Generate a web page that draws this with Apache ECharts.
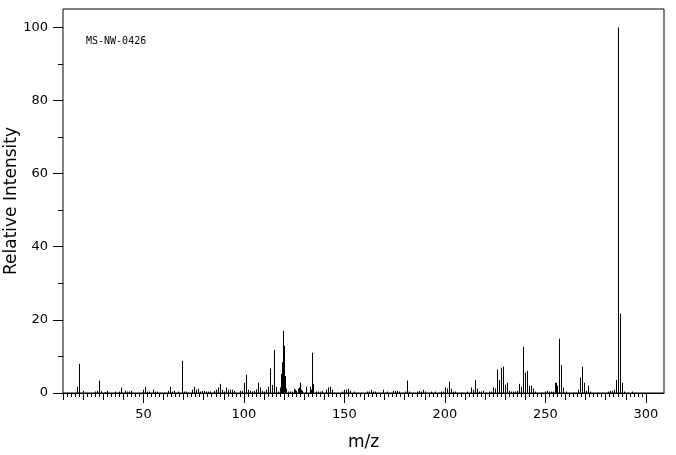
<!DOCTYPE html>
<html><head><meta charset="utf-8">
<script src="https://cdn.jsdelivr.net/npm/echarts@6/dist/echarts.min.js"></script>
<style>html,body{margin:0;padding:0;background:#fff}#c{width:676px;height:455px}</style>
</head><body><div id="c"></div>
<script>
// m/z positions of the peaks
const mz = [
  17, 18, 20, 26, 27, 28, 29, 31, 32, 36, 38, 39, 41, 42, 43, 44,
  50, 51, 52, 53, 55, 56, 57, 62, 63, 64, 65, 67, 69, 70, 71,
  74, 75, 76, 77, 78, 79, 80, 81, 82, 83, 85, 86, 87, 88, 89, 90,
  91, 92, 93, 94, 95, 98, 99, 100, 101, 102, 103, 104, 105, 106, 107,
  108, 109, 110, 111, 112, 113, 114, 115, 116, 117, 118, 118.5, 119,
  119.5, 120, 120.5, 121, 122, 123, 124, 125, 125.5, 126, 127, 127.5,
  128, 128.5, 129, 131, 133, 133.5, 134, 134.5, 136, 137, 138, 139,
  141, 142, 143, 144, 149, 150, 151, 152, 153, 155, 161, 162, 163,
  164, 165, 169, 171, 174, 175, 176, 177, 180, 181, 182, 186, 187,
  188, 189, 190, 193, 195, 198, 199, 200, 201, 202, 203, 204, 205,
  211, 213, 214, 215, 216, 217, 218, 219, 222, 223, 224, 225, 226,
  227, 228, 229, 230, 231, 232, 233, 234, 235, 236, 237, 238, 239,
  240, 241, 242, 243, 244, 245, 250, 251, 252, 253, 254, 255, 255.5,
  256, 257, 258, 259, 260, 266, 267, 268, 269, 270, 271, 272, 281,
  282, 283, 284, 285, 286, 287, 288, 289, 293
];
// relative intensities (%) matching mz
const intensity = [
  1.7, 8.0, 0.6, 0.4, 0.6, 3.4, 0.5, 0.3, 0.6, 0.4, 0.4, 1.5, 0.6, 0.4, 0.4, 0.6,
  0.9, 1.7, 0.4, 0.4, 0.9, 0.4, 0.4, 0.6, 1.7, 0.4, 0.6, 0.4, 8.8, 0.4, 0.4,
  0.9, 1.7, 0.9, 1.2, 0.4, 0.6, 0.6, 0.4, 0.4, 0.4, 0.6, 0.9, 1.5, 2.5, 0.9, 0.4,
  1.5, 0.9, 0.9, 0.9, 0.6, 0.6, 0.6, 2.8, 5.0, 0.9, 0.6, 0.4, 0.6, 1.0, 2.8,
  1.5, 0.6, 0.4, 0.9, 1.7, 6.7, 2.2, 11.8, 1.7, 0.4, 1.5, 5.2, 8.4,
  17.0, 12.9, 4.6, 1.2, 0.4, 0.4, 0.4, 1.2, 0.9, 0.6, 1.2, 1.5,
  2.9, 0.9, 0.6, 1.7, 1.7, 0.9, 11.0, 2.5, 0.4, 0.4, 0.4, 0.6,
  0.9, 1.5, 1.7, 0.9, 0.4, 0.9, 0.9, 1.2, 0.6, 0.4, 0.4, 0.4, 0.9,
  0.4, 0.4, 0.9, 0.4, 0.6, 0.6, 0.6, 0.4, 0.4, 3.4, 0.4, 0.4, 0.6,
  0.4, 0.9, 0.4, 0.4, 0.4, 0.4, 0.4, 1.5, 1.2, 3.1, 1.2, 0.4, 0.4,
  0.4, 1.5, 0.9, 3.6, 1.2, 0.4, 0.4, 0.6, 0.4, 0.4, 1.5, 1.2, 6.4,
  3.6, 6.9, 7.2, 2.3, 2.8, 0.6, 0.4, 0.4, 0.4, 0.6, 2.5, 1.7, 12.7,
  5.6, 6.1, 2.0, 2.0, 1.2, 0.4, 0.4, 0.6, 0.4, 0.4, 0.4, 2.8, 2.8,
  2.0, 14.8, 7.7, 1.5, 0.4, 0.9, 4.2, 7.2, 2.8, 0.6, 2.0, 0.4, 0.4,
  0.6, 0.6, 0.9, 3.6, 100, 21.7, 2.8, 0.4, 0.4
];
const xLabelValues = [50, 100, 150, 200, 250, 300];
const yLabelValues = [0, 20, 40, 60, 80, 100];
const yMinorValues = [10, 30, 50, 70, 90];
const sampleId = 'MS-NW-0426';

const xTens = [], xTwos = [];
for (let v = 10; v <= 300; v += 10) xTens.push(v);
for (let v = 10; v <= 300; v += 2) xTwos.push(v);

const X_MIN = 10, X_MAX = 309, Y_MIN = 0, Y_MAX = 105;
const FONT = 'DejaVu Sans';

function xAxisBase(extra) {
  return Object.assign({
    type: 'value', position: 'bottom', min: X_MIN, max: X_MAX, gridIndex: 0,
    splitLine: { show: false },
    axisLine: { show: false }
  }, extra);
}
function yAxisBase(extra) {
  return Object.assign({
    type: 'value', position: 'left', min: Y_MIN, max: Y_MAX, gridIndex: 0,
    splitLine: { show: false },
    axisLine: { show: false }
  }, extra);
}

const chart = echarts.init(document.getElementById('c'), null, { renderer: 'canvas' });
chart.setOption({
  animation: false,
  backgroundColor: '#fff',
  grid: { left: 63, top: 9, right: 12, bottom: 62, show: true, borderColor: '#000', borderWidth: 1,
          backgroundColor: 'transparent', containLabel: false, outerBoundsMode: 'none' },
  xAxis: [
    xAxisBase({
      name: 'm/z', nameLocation: 'middle', nameGap: 41,
      nameTextStyle: { fontFamily: FONT, fontSize: 17, color: '#000' },
      axisLine: { show: true, onZero: false, lineStyle: { color: '#000', width: 1 } },
      axisTick: { show: true, length: 10, lineStyle: { color: '#000', width: 1 }, customValues: xLabelValues },
      axisLabel: { show: true, margin: 15, fontFamily: FONT, fontSize: 13, color: '#000', customValues: xLabelValues }
    }),
    xAxisBase({
      axisTick: { show: true, length: 7, lineStyle: { color: '#000', width: 1 }, customValues: xTens },
      axisLabel: { show: false }
    }),
    xAxisBase({
      axisTick: { show: true, length: 4, lineStyle: { color: '#000', width: 1 }, customValues: xTwos },
      axisLabel: { show: false }
    })
  ],
  yAxis: [
    yAxisBase({
      name: 'Relative Intensity', nameLocation: 'middle', nameGap: 43, nameMoveOverlap: false,
      nameTextStyle: { fontFamily: FONT, fontSize: 17, color: '#000' },
      axisTick: { show: true, length: 10, lineStyle: { color: '#000', width: 1 }, customValues: yLabelValues },
      axisLabel: { show: true, margin: 15, fontFamily: FONT, fontSize: 13, color: '#000', customValues: yLabelValues }
    }),
    yAxisBase({
      axisTick: { show: true, length: 5, lineStyle: { color: '#000', width: 1 }, customValues: yMinorValues },
      axisLabel: { show: false }
    })
  ],
  graphic: [{
    type: 'text', left: 86, top: 36,
    style: { text: sampleId, fontFamily: 'DejaVu Sans Mono', fontSize: 10, fill: '#000' }
  }],
  series: [{
    type: 'custom',
    xAxisIndex: 0, yAxisIndex: 0,
    data: mz.map((m, i) => [m, intensity[i]]),
    renderItem: function (params, api) {
      const p0 = api.coord([api.value(0), 0]);
      const p1 = api.coord([api.value(0), api.value(1)]);
      const x = Math.round(p0[0]) + 0.5;
      return {
        type: 'line',
        shape: { x1: x, y1: p0[1], x2: x, y2: p1[1] },
        style: { stroke: '#000', lineWidth: 1 }
      };
    }
  }]
});
</script>
</body></html>
